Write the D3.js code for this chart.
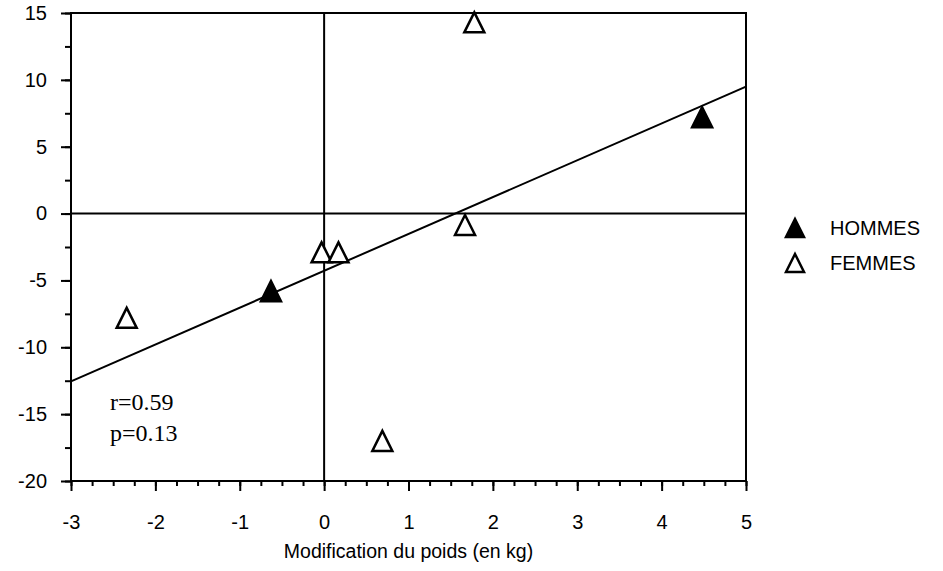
<!DOCTYPE html>
<meta charset="utf-8">
<script src="https://d3js.org/d3.v7.min.js"></script>
<style>
  body { margin: 0; background: #fff; }
  text { font-family: "Liberation Sans", Arial, sans-serif; }
</style>
<body>
<div id="chart"></div>
<script>

    // data
    var hommesX = [-0.63, 4.48];
    var hommesY = [-5.8, 7.2];
    var femmesX = [-2.34, -0.03, 0.17, 0.69, 1.67, 1.78];
    var femmesY = [-7.8, -2.9, -2.9, -17, -0.85, 14.3];
    var fitX = [-3, 5];
    var fitY = [-12.55, 9.5];
    var xTicks = [-3, -2, -1, 0, 1, 2, 3, 4, 5];
    var yTicks = [15, 10, 5, 0, -5, -10, -15, -20];
    var legendLabels = ["HOMMES", "FEMMES"];
    var stats = ["r=0.59", "p=0.13"];
    var xTitle = "Modification du poids (en kg)";

    var margin = {top: 13, right: 197, bottom: 90, left: 71},
        width = 943 - margin.left - margin.right,
        height = 571 - margin.top - margin.bottom;

    var svg = d3.select("#chart")
      .append("svg")
        .attr("width", 943)
        .attr("height", 571)
      .append("g")
        .attr("transform", "translate(" + margin.left + "," + margin.top + ")");

    var x = d3.scaleLinear().domain([-3, 5]).range([0, width]);
    var y = d3.scaleLinear().domain([-20, 15]).range([height, 0]);

    // plain hyphen instead of the unicode minus
    var fmt = d => String(d);

    // minor ticks first, then major ones with labels
    svg.append("g")
        .attr("transform", "translate(0," + height + ")")
        .call(d3.axisBottom(x).tickValues(d3.range(-3, 5.01, 0.25)).tickSize(5).tickFormat(""))
        .call(g => g.select(".domain").remove());
    svg.append("g")
        .attr("transform", "translate(0," + height + ")")
        .call(d3.axisBottom(x).tickValues(xTicks).tickSize(10).tickPadding(24).tickFormat(fmt))
        .call(g => g.select(".domain").remove())
        .call(g => g.selectAll("text").attr("font-size", "20px").attr("fill", "#000"));

    svg.append("g")
        .call(d3.axisLeft(y).tickValues(d3.range(-20, 15.01, 2.5)).tickSize(6).tickFormat(""))
        .call(g => g.select(".domain").remove());
    svg.append("g")
        .call(d3.axisLeft(y).tickValues(yTicks).tickSize(10).tickPadding(14).tickFormat(fmt))
        .call(g => g.select(".domain").remove())
        .call(g => g.selectAll("text").attr("font-size", "20px").attr("fill", "#000"));

    svg.selectAll(".tick line").attr("stroke", "#000").attr("stroke-width", 2);

    // frame and zero lines
    svg.append("rect")
        .attr("width", width).attr("height", height)
        .attr("fill", "none").attr("stroke", "#000").attr("stroke-width", 2);
    svg.append("line")
        .attr("x1", 0).attr("x2", width).attr("y1", y(0)).attr("y2", y(0))
        .attr("stroke", "#000").attr("stroke-width", 2);
    svg.append("line")
        .attr("x1", x(0)).attr("x2", x(0)).attr("y1", 0).attr("y2", height)
        .attr("stroke", "#000").attr("stroke-width", 2);

    // regression line
    svg.append("path")
        .datum(d3.zip(fitX, fitY))
        .attr("fill", "none").attr("stroke", "#000").attr("stroke-width", 2)
        .attr("d", d3.line().x(d => x(d[0])).y(d => y(d[1])));

    var tri = "M0,-10L10,10L-10,10Z";

    svg.append("g").selectAll("path")
        .data(d3.zip(femmesX, femmesY))
        .enter().append("path")
        .attr("d", tri)
        .attr("transform", d => "translate(" + x(d[0]) + "," + y(d[1]) + ")")
        .attr("fill", "#fff").attr("stroke", "#000").attr("stroke-width", 2.5);

    svg.append("g").selectAll("path")
        .data(d3.zip(hommesX, hommesY))
        .enter().append("path")
        .attr("d", tri)
        .attr("transform", d => "translate(" + x(d[0]) + "," + y(d[1]) + ")")
        .attr("fill", "#000").attr("stroke", "#000").attr("stroke-width", 2.5);

    svg.selectAll(".stat")
        .data(stats)
        .enter().append("text")
        .attr("x", 39)
        .attr("y", (d, i) => 397 + i * 31)
        .style("font-family", "'Liberation Serif', 'Times New Roman', serif")
        .attr("font-size", "24px")
        .text(d => d);

    svg.append("text")
        .attr("x", width / 2)
        .attr("y", height + 77)
        .attr("text-anchor", "middle")
        .attr("font-size", "19.5px")
        .text(xTitle);

    // legend
    var legend = svg.append("g").attr("transform", "translate(" + (width + 49) + ",0)");
    legend.selectAll("path")
        .data(legendLabels)
        .enter().append("path")
        .attr("d", "M0,-9L9,9L-9,9Z")
        .attr("transform", (d, i) => "translate(0," + (215 + i * 35) + ")")
        .attr("fill", (d, i) => i === 0 ? "#000" : "#fff")
        .attr("stroke", "#000").attr("stroke-width", 2.5);
    legend.selectAll("text")
        .data(legendLabels)
        .enter().append("text")
        .attr("x", 35)
        .attr("y", (d, i) => 222 + i * 35)
        .attr("font-size", "20px")
        .text(d => d);

</script>
</body>
